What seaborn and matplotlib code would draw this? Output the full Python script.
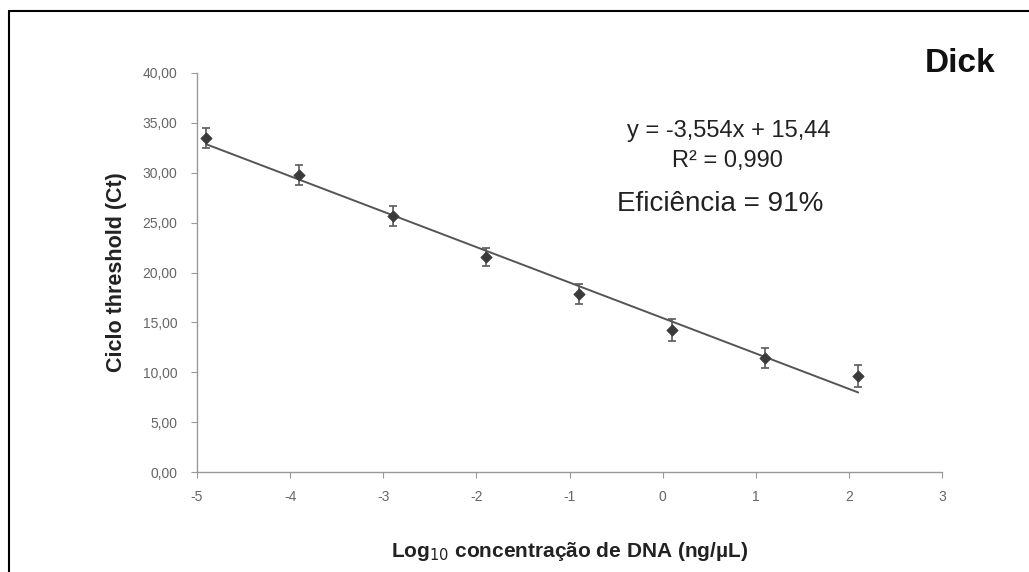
import numpy as np
import pandas as pd
import matplotlib
matplotlib.use("Agg")
import matplotlib.pyplot as plt
from matplotlib.ticker import FuncFormatter
import seaborn as sns

log_conc = [-4.9, -3.9, -2.9, -1.9, -0.9, 0.1, 1.1, 2.1]
ct_mean = [33.5, 29.8, 25.7, 21.6, 17.8, 14.2, 11.4, 9.6]
ct_err = [1.0, 1.0, 1.0, 0.9, 1.0, 1.1, 1.0, 1.1]
slope = -3.554
intercept = 15.44
x_ticks = [-5, -4, -3, -2, -1, 0, 1, 2, 3]
y_ticks = [0, 5, 10, 15, 20, 25, 30, 35, 40]

sns.set_style("white")
plt.rcParams['font.family'] = ['Liberation Sans', 'DejaVu Sans']

W, H = 1029, 572
fig = plt.figure(figsize=(W / 100, H / 100), dpi=100)
ax = fig.add_axes([197 / W, 1 - 472 / H, (942 - 197) / W, (472 - 73) / H])

df = pd.DataFrame({"x": log_conc, "y": ct_mean})
fit_x = np.array([min(log_conc), max(log_conc)])
fit_df = pd.DataFrame({"x": fit_x, "y": slope * fit_x + intercept})

sns.lineplot(data=fit_df, x="x", y="y", ax=ax, color="#555555", linewidth=1.4)
ax.errorbar(log_conc, ct_mean, yerr=ct_err, fmt="none", ecolor="#5a5a5a",
            elinewidth=1.2, capsize=3, capthick=1.2, zorder=3)
sns.scatterplot(data=df, x="x", y="y", ax=ax, marker="D", s=34,
                color="#3a3a3a", edgecolor="#3a3a3a", zorder=4)

ax.set_xlim(-5, 3)
ax.set_ylim(0, 40)
ax.set_xticks(x_ticks)
ax.set_yticks(y_ticks)
ax.xaxis.set_major_formatter(FuncFormatter(lambda v, p: f"{int(v)}"))
ax.yaxis.set_major_formatter(FuncFormatter(lambda v, p: f"{v:.2f}".replace(".", ",")))
for s in ["top", "right"]:
    ax.spines[s].set_visible(False)
for s in ["left", "bottom"]:
    ax.spines[s].set_color("#999999")
    ax.spines[s].set_linewidth(1.0)
ax.tick_params(axis="both", which="major", length=4, width=0.8, color="#999999",
               labelsize=10, labelcolor="#666666", direction="out",
               bottom=True, left=True)
ax.tick_params(axis="x", pad=9)
ax.tick_params(axis="y", pad=10)

ax.set_xlabel("Log$_{10}$ concentração de DNA (ng/µL)", fontsize=15,
              fontweight="bold", color="#222222", labelpad=26)
ax.set_ylabel("Ciclo threshold (Ct)", fontsize=15.5, fontweight="bold",
              color="#222222", labelpad=11)

fig.text(729 / W, 1 - 137 / H, "y = -3,554x + 15,44", ha="center", va="baseline",
         fontsize=17, color="#222222")
fig.text(727 / W, 1 - 167 / H, "R² = 0,990", ha="center", va="baseline",
         fontsize=17, color="#222222")
fig.text(720 / W, 1 - 211 / H, "Eficiência = 91%", ha="center", va="baseline",
         fontsize=20, color="#222222")
fig.text(960 / W, 1 - 72 / H, "Dick", ha="center", va="baseline",
         fontsize=24, fontweight="bold", color="#111111")

fig.add_artist(plt.Line2D([9 / W, 9 / W], [0, 1 - 11 / H],
                          transform=fig.transFigure, color="black", linewidth=1.5))
fig.add_artist(plt.Line2D([9 / W, 1], [1 - 11 / H, 1 - 11 / H],
                          transform=fig.transFigure, color="black", linewidth=1.5))

fig.savefig("out.png", dpi=100)
